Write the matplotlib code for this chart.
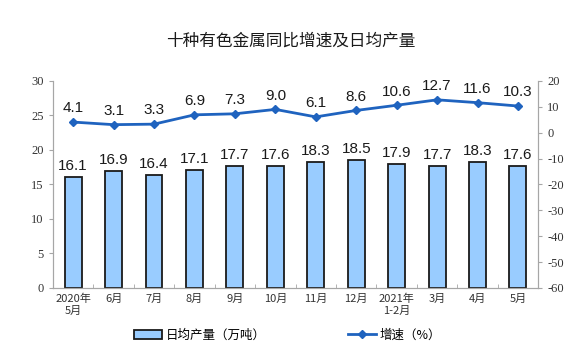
import matplotlib.pyplot as plt
import numpy as np
from matplotlib.patches import Patch
from matplotlib.lines import Line2D

plt.rcParams['font.family'] = ['Liberation Serif', 'Noto Sans CJK SC', 'DejaVu Sans']
plt.rcParams['axes.unicode_minus'] = False

months = ['2020年\n5月', '6月', '7月', '8月', '9月', '10月', '11月', '12月',
          '2021年\n1-2月', '3月', '4月', '5月']
output = [16.1, 16.9, 16.4, 17.1, 17.7, 17.6, 18.3, 18.5, 17.9, 17.7, 18.3, 17.6]
growth = [4.1, 3.1, 3.3, 6.9, 7.3, 9.0, 6.1, 8.6, 10.6, 12.7, 11.6, 10.3]

bar_color = '#99CCFF'
line_color = '#1F63BF'
spine_color = '#A6A6A6'
label_font = ['Liberation Sans', 'Noto Sans CJK SC']

fig = plt.figure(figsize=(5.75, 3.55), dpi=100)
ax = fig.add_axes([0.092, 0.189, 0.844, 0.583])
x = np.arange(len(months))

ax.bar(x, output, width=0.42, color=bar_color, edgecolor='#1A1A1A', linewidth=1.3, zorder=2)
for xi, v in zip(x, output):
    ax.text(xi, v + 0.6, f'{v:.1f}', ha='center', va='bottom', fontsize=11,
            family=label_font, color='#1A1A1A')

ax.set_ylim(0, 30)
ax.set_yticks(range(0, 31, 5))
ax.set_xlim(-0.5, len(months) - 0.5)
ax.set_xticks(x)
ax.set_xticklabels(months, family=['Noto Sans CJK SC'], fontsize=8, color='#333333')
ax.set_xticks(np.arange(-0.5, len(months), 1), minor=True)
ax.tick_params(axis='x', which='major', length=0, pad=4)
ax.tick_params(axis='x', which='minor', length=3, color=spine_color, direction='in')
ax.tick_params(axis='y', length=3, color=spine_color, labelsize=9, labelcolor='#333333')

ax2 = ax.twinx()
ax2.plot(x, growth, color=line_color, lw=2, marker='D', markersize=4, zorder=3)
for xi, v in zip(x, growth):
    ax2.text(xi, v + 2.6, f'{v:.1f}', ha='center', va='bottom', fontsize=11,
             family=label_font, color='#1A1A1A')
ax2.set_ylim(-60, 20)
ax2.set_yticks(range(-60, 21, 10))
ax2.tick_params(axis='y', length=3, color=spine_color, labelsize=9, labelcolor='#333333')

for a in (ax, ax2):
    a.spines['top'].set_visible(False)
    for s in ('left', 'right', 'bottom'):
        a.spines[s].set_color(spine_color)

fig.text(0.505, 0.885, '十种有色金属同比增速及日均产量', ha='center', va='center',
         fontsize=12, family=['Noto Sans CJK SC'], color='#1A1A1A')

handles = [Patch(facecolor=bar_color, edgecolor='#1A1A1A', linewidth=1.3),
           Line2D([0], [0], color=line_color, lw=2, marker='D', markersize=4)]
fig.legend(handles, ['日均产量（万吨）', '增速（%）'], loc='center',
           bbox_to_anchor=(0.5, 0.056), ncol=2, frameon=False, columnspacing=6.6,
           handlelength=2.2, handletextpad=0.3,
           prop={'family': 'Noto Sans CJK SC', 'size': 9})

fig.savefig('out.png', dpi=100)
